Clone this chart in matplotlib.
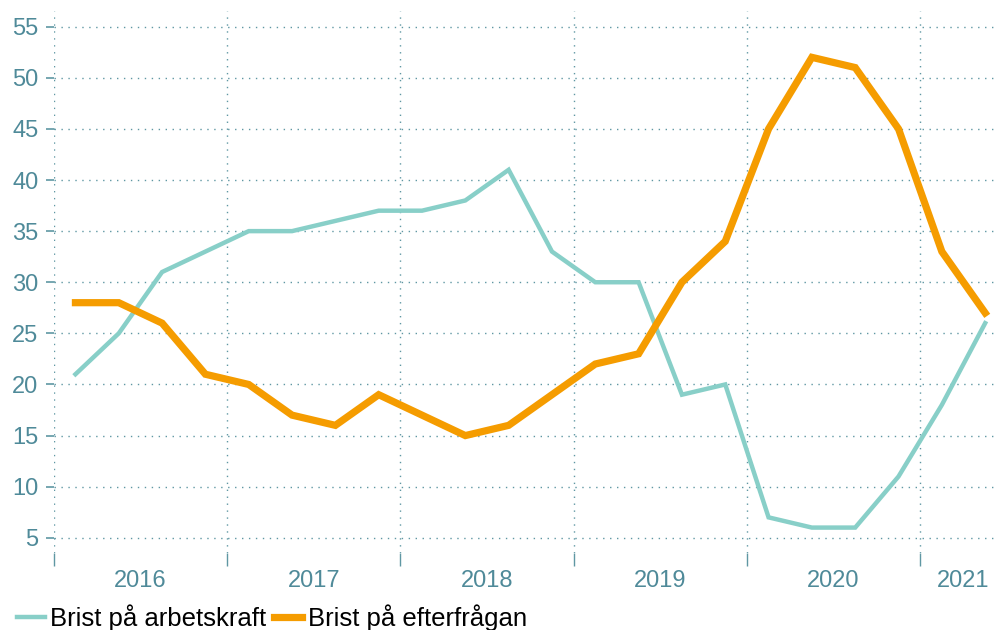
import matplotlib.pyplot as plt
import numpy as np

plt.rcParams['font.family'] = ['Liberation Sans', 'DejaVu Sans']

# Quarterly data, 2016Q1 - 2021Q2
years = ['2016', '2017', '2018', '2019', '2020', '2021']
arbetskraft = [21, 25, 31, 33, 35, 35, 36, 37, 37, 38, 41, 33,
               30, 30, 19, 20, 7, 6, 6, 11, 18, 26]
efterfragan = [28, 28, 26, 21, 20, 17, 16, 19, 17, 15, 16, 19,
               22, 23, 30, 34, 45, 52, 51, 45, 33, 27]

text_col = '#4f8a99'
grid_col = '#5f97a3'

x = np.arange(len(arbetskraft)) + 0.5

fig = plt.figure(figsize=(9.96, 6.3), dpi=100)
ax = fig.add_axes([0.054, 0.122, 0.946, 0.86])

ax.plot(x, arbetskraft, color='#88cfc8', lw=3.2, solid_joinstyle='miter',
        label='Brist på arbetskraft', zorder=3)
ax.plot(x, efterfragan, color='#f59c00', lw=5.2, solid_joinstyle='miter',
        label='Brist på efterfrågan', zorder=3)

ax.set_xlim(0, 21.75)
ax.set_ylim(3.5, 56.5)

# year boundaries as major ticks (grid), labels on minor ticks
ax.set_xticks(np.arange(0, 21, 4))
ax.set_xticklabels([])
label_pos = [2, 6, 10, 14, 18, 21]
ax.set_xticks(label_pos, minor=True)
ax.set_xticklabels(years, minor=True)
ax.tick_params(axis='x', which='major', length=9, width=1, color=grid_col, direction='out')
ax.tick_params(axis='x', which='minor', length=0, pad=12, labelsize=17, labelcolor=text_col)

ax.set_yticks(np.arange(5, 56, 5))
ax.tick_params(axis='y', length=6, width=1.2, color=grid_col, pad=5,
               labelsize=17, labelcolor=text_col)

ax.grid(True, which='major', color=grid_col, linestyle=(0, (1, 4)), lw=1)
for s in ax.spines.values():
    s.set_visible(False)

ax.legend(loc='lower left', bbox_to_anchor=(-0.05, -0.163), ncol=2, frameon=False,
          fontsize=18.5, handlelength=1.1, handletextpad=0.2, columnspacing=0.3,
          borderaxespad=0)

fig.savefig('out.png', dpi=100)
